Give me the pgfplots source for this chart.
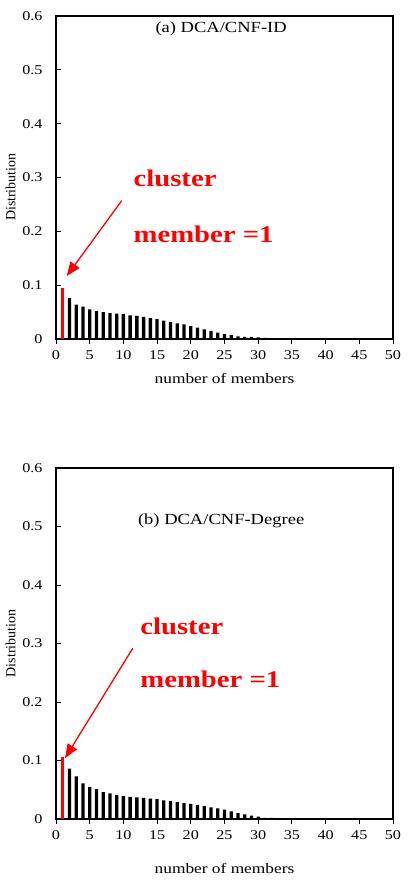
\documentclass[border=0pt]{standalone}
\usepackage{fontspec}
\setmainfont{Liberation Serif}[FakeStretch=1.2]
\newfontfamily\plainserif{Liberation Serif}
\usepackage{pgfplots}
\usepackage{pgfplotstable}
\pgfplotsset{compat=1.18}
\usetikzlibrary{arrows.meta}

\pgfplotstableread{
x y
2 0.076
3 0.064
4 0.060
5 0.055
6 0.052
7 0.050
8 0.048
9 0.047
10 0.046
11 0.044
12 0.043
13 0.041
14 0.039
15 0.037
16 0.034
17 0.032
18 0.029
19 0.027
20 0.024
21 0.021
22 0.018
23 0.015
24 0.012
25 0.009
26 0.007
27 0.005
28 0.004
29 0.004
30 0.003
31 0.002
32 0.001
}\dataA

\pgfplotstableread{
x y
2 0.086
3 0.073
4 0.061
5 0.055
6 0.051
7 0.046
8 0.044
9 0.041
10 0.039
11 0.038
12 0.037
13 0.036
14 0.035
15 0.034
16 0.032
17 0.031
18 0.029
19 0.027
20 0.026
21 0.024
22 0.022
23 0.020
24 0.018
25 0.016
26 0.013
27 0.010
28 0.008
29 0.006
30 0.004
31 0.002
32 0.002
33 0.001
}\dataB

\pgfplotsset{mystyle/.style={
  scale only axis, width=337bp,
  xmin=0, xmax=50, ymin=0, ymax=0.6,
  xtick={0,5,10,15,20,25,30,35,40,45,50},
  xticklabels={0,5,10,15,20,25,30,35,40,45,50},
  ytick={0,0.1,0.2,0.3,0.4,0.5,0.6},
  yticklabels={0,0.1,0.2,0.3,0.4,0.5,0.6},
  tick align=inside, tick pos=left, major tick length=5bp,
  axis line style={line width=1.3bp},
  tick style={line width=0.8bp, black},
  ticklabel style={font=\fontsize{13.5}{13.5}\selectfont},
  xticklabel style={yshift=-3bp},
  yticklabel style={xshift=-10bp},
  xlabel={number of members},
  xlabel style={font=\fontsize{14.5}{14.5}\selectfont, yshift=-7bp},
  ylabel={Distribution},
  ylabel style={font=\plainserif\fontsize{14}{14}\selectfont, anchor=center},
  ybar, bar width=3.3bp,
}}

\begin{document}
\begin{tikzpicture}
\useasboundingbox (0,0) rectangle (409bp,-880bp);
\begin{axis}[mystyle, height=323bp, at={(56bp,-339bp)}, anchor=south west,
  ylabel style={at={(axis description cs:-0.135,0.47)}}]
  \addplot[fill=red, draw=none, bar shift=0pt] coordinates {(1,0.095)};
  \addplot[fill=black, draw=none, bar shift=0pt] table[x=x,y=y] {\dataA};
  \node[font=\fontsize{15.5}{15.5}\selectfont] at (rel axis cs:0.49,0.96) {(a) DCA/CNF-ID};
  \node[anchor=base west, text=red, font=\bfseries\fontsize{24}{24}\selectfont] at (axis cs:11,0.2825) {cluster};
  \node[anchor=base west, text=red, font=\bfseries\fontsize{24}{24}\selectfont] at (axis cs:11,0.180) {member =1};
  \draw[red, line width=1.3bp, -{Triangle[length=14bp,width=11bp]}] (axis cs:9.75,0.257) -- (axis cs:1.59,0.117);
\end{axis}
\begin{axis}[mystyle, height=351bp, at={(56bp,-819bp)}, anchor=south west,
  xlabel style={yshift=-10bp},
  ylabel style={at={(axis description cs:-0.135,0.5)}}]
  \addplot[fill=red, draw=none, bar shift=0pt] coordinates {(1,0.106)};
  \addplot[fill=black, draw=none, bar shift=0pt] table[x=x,y=y] {\dataB};
  \node[font=\fontsize{15.5}{15.5}\selectfont] at (rel axis cs:0.49,0.85) {(b) DCA/CNF-Degree};
  \node[anchor=base west, text=red, font=\bfseries\fontsize{24}{24}\selectfont] at (axis cs:12,0.315) {cluster};
  \node[anchor=base west, text=red, font=\bfseries\fontsize{24}{24}\selectfont] at (axis cs:12,0.224) {member =1};
  \draw[red, line width=1.3bp, -{Triangle[length=14bp,width=11bp]}] (axis cs:11.4,0.292) -- (axis cs:1.34,0.104);
\end{axis}
\end{tikzpicture}
\end{document}
